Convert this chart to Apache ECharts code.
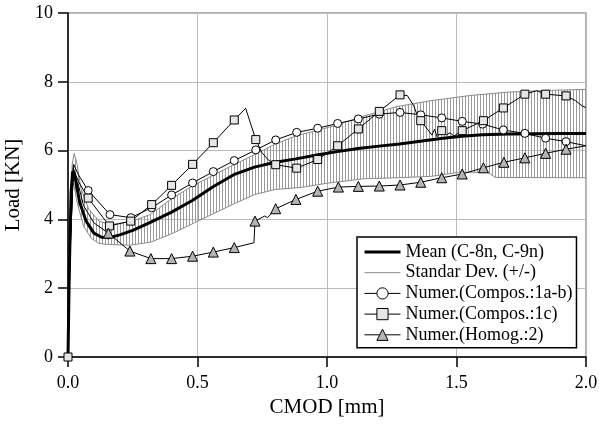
<!DOCTYPE html>
<html>
<head>
<meta charset="utf-8">
<script src="https://cdn.jsdelivr.net/npm/echarts@6/dist/echarts.min.js"></script>
<style>
  html, body { margin: 0; padding: 0; background: #fff; }
  #chart { width: 599px; height: 424px; }
</style>
</head>
<body>
<div id="chart"></div>
<script>
const serif = "'Liberation Serif', 'DejaVu Serif', serif";

const seriesNames = [
  'Mean (C-8n, C-9n)',
  'Standar Dev. (+/-)',
  'Numer.(Compos.:1a-b)',
  'Numer.(Compos.:1c)',
  'Numer.(Homog.:2)'
];

// experimental mean curve [CMOD, load]
const meanCurve = [
  [0, 0], [0.005, 2.5], [0.012, 4.8], [0.018, 5.4], [0.028, 5.2], [0.045, 4.5],
  [0.07, 3.95], [0.1, 3.6], [0.13, 3.48], [0.16, 3.47], [0.2, 3.55], [0.25, 3.68],
  [0.32, 3.92], [0.4, 4.21], [0.48, 4.55], [0.56, 4.95], [0.64, 5.3], [0.72, 5.52],
  [0.8, 5.66], [0.88, 5.76], [0.96, 5.87], [1.04, 5.97], [1.12, 6.06], [1.2, 6.13],
  [1.28, 6.19], [1.36, 6.27], [1.44, 6.35], [1.52, 6.42], [1.6, 6.46], [1.7, 6.48],
  [1.8, 6.49], [1.9, 6.5], [2.0, 6.5]
];

// std dev envelope
const sdUpper = [
  [0, 0], [0.008, 3.5], [0.016, 5.6], [0.024, 5.92], [0.035, 5.6], [0.05, 4.9],
  [0.08, 4.3], [0.12, 3.95], [0.16, 3.85], [0.24, 3.93], [0.32, 4.15], [0.4, 4.6],
  [0.48, 4.97], [0.56, 5.28], [0.64, 5.59], [0.72, 5.88], [0.8, 6.19], [0.88, 6.43],
  [0.96, 6.58], [1.04, 6.75], [1.14, 7.0], [1.27, 7.28], [1.4, 7.45], [1.55, 7.6],
  [1.7, 7.7], [1.85, 7.75], [2.0, 7.78]
];
const sdLower = [
  [0, 0], [0.008, 3.0], [0.016, 4.9], [0.022, 5.05], [0.035, 4.5], [0.06, 3.8],
  [0.09, 3.45], [0.12, 3.3], [0.156, 3.27], [0.24, 3.25], [0.32, 3.34], [0.4, 3.58],
  [0.48, 3.87], [0.56, 4.16], [0.64, 4.45], [0.72, 4.72], [0.8, 4.87], [0.9, 4.93],
  [1.0, 5.05], [1.14, 5.18], [1.27, 5.21], [1.4, 5.25], [1.51, 5.37], [1.62, 5.37],
  [1.65, 5.22], [2.0, 5.21]
];

// numerical 1a-b (circles)
const compos1abMarks = [
  [0.078, 4.84], [0.162, 4.14], [0.243, 4.05], [0.323, 4.34], [0.4, 4.71], [0.481, 5.06],
  [0.561, 5.39], [0.642, 5.71], [0.725, 6.02], [0.802, 6.31], [0.883, 6.53], [0.964, 6.65],
  [1.041, 6.79], [1.121, 6.92], [1.202, 7.06], [1.282, 7.11], [1.362, 7.04], [1.443, 6.95],
  [1.522, 6.85], [1.601, 6.77], [1.681, 6.6], [1.764, 6.5], [1.844, 6.36], [1.923, 6.26]
];
const compos1abCurve = [[0, 0], [0.008, 3.2], [0.022, 5.6], [0.04, 5.3], [2.0, 6.14]];

// numerical 1c (squares)
const compos1cMarks = [
  [0, 0], [0.078, 4.62], [0.16, 3.81], [0.242, 3.95], [0.323, 4.43], [0.4, 4.99],
  [0.481, 5.6], [0.561, 6.23], [0.642, 6.89], [0.725, 6.32], [0.802, 5.59], [0.883, 5.49],
  [0.964, 5.74], [1.041, 6.14], [1.121, 6.63], [1.202, 7.14], [1.282, 7.62], [1.362, 6.87],
  [1.443, 6.58], [1.522, 6.58], [1.604, 6.87], [1.681, 7.24], [1.764, 7.64], [1.844, 7.64],
  [1.923, 7.59]
];
const compos1cCurve = [
  [0.008, 3.0], [0.02, 5.5], [0.04, 5.1], [0.686, 7.23], [0.748, 5.95], [0.773, 5.73],
  [1.31, 7.6], [1.335, 7.3], [1.35, 7.0], [1.39, 6.6], [1.405, 6.45], [1.415, 6.62],
  [1.425, 6.4], [1.46, 6.45], [1.475, 6.52], [1.49, 6.42], [1.505, 6.5], [1.81, 7.74],
  [1.96, 7.45], [1.985, 7.3], [2.0, 7.25]
];

// numerical homog. 2 (triangles)
const homog2Marks = [
  [0.156, 3.6], [0.239, 3.08], [0.32, 2.86], [0.4, 2.86], [0.481, 2.93], [0.561, 3.05],
  [0.642, 3.18], [0.722, 3.95], [0.802, 4.31], [0.88, 4.58], [0.964, 4.82], [1.044, 4.94],
  [1.121, 4.96], [1.202, 4.97], [1.282, 5.0], [1.362, 5.08], [1.443, 5.21], [1.522, 5.32],
  [1.604, 5.5], [1.683, 5.66], [1.764, 5.79], [1.844, 5.92], [1.923, 6.04]
];
const homog2Curve = [
  [0, 0], [0.008, 3.0], [0.02, 5.3], [0.04, 5.0], [0.06, 4.4], [0.1, 3.9],
  [0.718, 3.32], [0.76, 4.1], [0.77, 4.05], [2.0, 6.14]
];

// markers only on the "Marks" points
function mergePoints(marks, curve) {
  return marks.map(p => ({ value: p }))
    .concat(curve.map(p => ({ value: p, symbol: 'none' })))
    .sort((a, b) => a.value[0] - b.value[0]);
}

// vertical hatch for the std dev band
const hatch = document.createElement('canvas');
hatch.width = 3;
hatch.height = 4;
const hctx = hatch.getContext('2d');
hctx.fillStyle = '#9a9a9a';
hctx.fillRect(0, 0, 1, 4);

const chart = echarts.init(document.getElementById('chart'));

const markerLine = (name, data, symbol, fill) => ({
  name: name,
  type: 'line',
  data: data,
  symbol: symbol,
  symbolSize: symbol === 'triangle' ? 10 : 8,
  lineStyle: { color: '#000', width: 1 },
  itemStyle: { color: fill, borderColor: '#000', borderWidth: 1 },
  z: 5
});

chart.setOption({
  animation: false,
  backgroundColor: '#fff',
  grid: {
    left: 68, right: 13, top: 13, bottom: 67,
    containLabel: false, outerBoundsMode: 'none',
    show: true, borderColor: '#999', borderWidth: 1.5
  },
  xAxis: {
    type: 'value', min: 0, max: 2, interval: 0.5,
    name: 'CMOD [mm]', nameLocation: 'middle', nameGap: 39,
    nameTextStyle: { fontFamily: serif, fontSize: 21, color: '#000' },
    axisLine: { show: true, onZero: false, lineStyle: { color: '#000', width: 1.5 } },
    axisTick: { show: true, length: 10, lineStyle: { color: '#000', width: 1.5 } },
    axisLabel: { formatter: v => v.toFixed(1), fontFamily: serif, fontSize: 18, color: '#000', margin: 17 },
    splitLine: { show: true, lineStyle: { color: '#bbb', width: 1 } }
  },
  yAxis: {
    type: 'value', min: 0, max: 10, interval: 2,
    name: 'Load [KN]', nameLocation: 'middle', nameGap: 37,
    nameTextStyle: { fontFamily: serif, fontSize: 21, color: '#000' },
    axisLine: { show: true, onZero: false, lineStyle: { color: '#000', width: 1.5 } },
    axisTick: { show: true, length: 10, lineStyle: { color: '#000', width: 1.5 } },
    axisLabel: { fontFamily: serif, fontSize: 18, color: '#000', margin: 15 },
    splitLine: { show: true, lineStyle: { color: '#bbb', width: 1 } }
  },
  legend: {
    orient: 'vertical', left: 357, top: 237,
    backgroundColor: '#fff', borderColor: '#000', borderWidth: 1.5,
    padding: [6, 4, 4, 6],
    itemWidth: 36, itemHeight: 14, itemGap: 2.7,
    selectedMode: false,
    textStyle: { fontFamily: serif, fontSize: 18, color: '#000' },
    lineStyle: { width: 'inherit' },
    itemStyle: { borderWidth: 'inherit' },
    data: [
      { name: seriesNames[0], itemStyle: { opacity: 0 } },
      { name: seriesNames[1], itemStyle: { opacity: 0 } },
      seriesNames[2], seriesNames[3], seriesNames[4]
    ],
    z: 20
  },
  series: [
    {
      type: 'custom',
      silent: true,
      z: 1,
      data: [[0, 0]],
      renderItem: (params, api) => {
        const pts = sdUpper.map(p => api.coord(p))
          .concat(sdLower.slice().reverse().map(p => api.coord(p)));
        return {
          type: 'polygon',
          shape: { points: pts },
          style: { fill: { image: hatch, repeat: 'repeat' }, stroke: null }
        };
      }
    },
    {
      name: seriesNames[1], type: 'line', data: sdUpper, symbol: 'none',
      lineStyle: { color: '#8a8a8a', width: 1 }, itemStyle: { color: '#8a8a8a' }, z: 2
    },
    {
      name: seriesNames[1], type: 'line', data: sdLower, symbol: 'none',
      lineStyle: { color: '#8a8a8a', width: 1 }, itemStyle: { color: '#8a8a8a' }, z: 2
    },
    {
      name: seriesNames[0], type: 'line', data: meanCurve, symbol: 'none',
      lineStyle: { color: '#000', width: 3 }, itemStyle: { color: '#000' }, z: 4
    },
    markerLine(seriesNames[2], mergePoints(compos1abMarks, compos1abCurve), 'circle', '#fff'),
    markerLine(seriesNames[3], mergePoints(compos1cMarks, compos1cCurve), 'rect', '#e6e6e6'),
    markerLine(seriesNames[4], mergePoints(homog2Marks, homog2Curve), 'triangle', '#b4b4b4')
  ]
});
</script>
</body>
</html>
